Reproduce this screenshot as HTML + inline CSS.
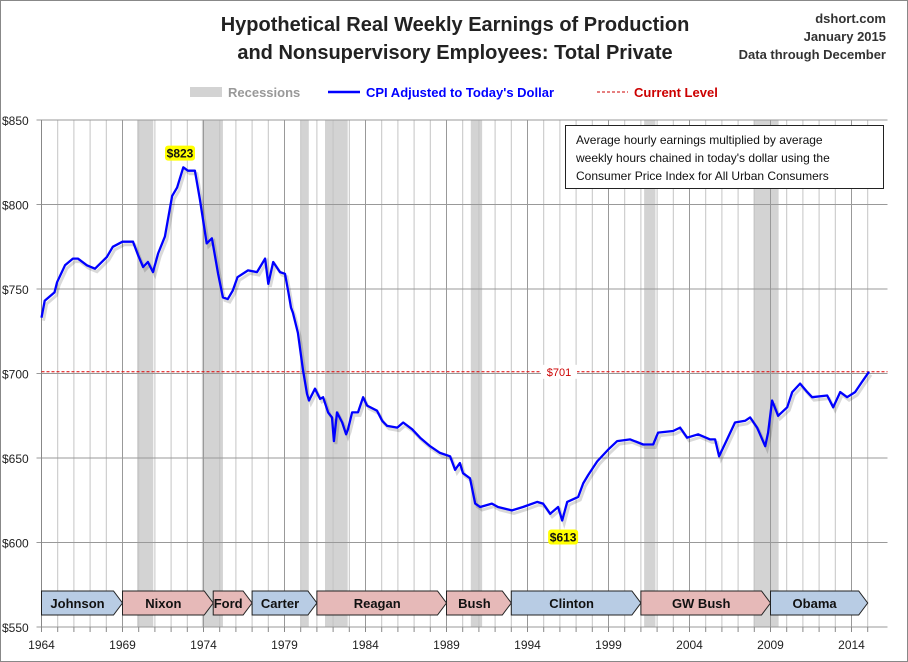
<!DOCTYPE html>
<html><head><meta charset="utf-8"><style>
body{margin:0;background:#fff;}
svg{display:block;font-family:"Liberation Sans",sans-serif;}
</style></head><body>
<svg id="chart" width="908" height="662" viewBox="0 0 908 662">
<rect x="0.5" y="0.5" width="907" height="661" fill="#fff" stroke="#888"/>
<text x="455" y="31" text-anchor="middle" font-size="20" font-weight="bold" fill="#222">Hypothetical Real Weekly Earnings of Production</text>
<text x="455" y="59" text-anchor="middle" font-size="20" font-weight="bold" fill="#222">and Nonsupervisory Employees: Total Private</text>
<text x="886" y="23" text-anchor="end" font-size="13" font-weight="bold" fill="#333">dshort.com</text>
<text x="886" y="41" text-anchor="end" font-size="13" font-weight="bold" fill="#333">January 2015</text>
<text x="886" y="59" text-anchor="end" font-size="13" font-weight="bold" fill="#333">Data through December</text>
<g>
<rect x="190" y="87" width="32" height="10" fill="#d3d3d3"/>
<text x="228" y="97" font-size="13" font-weight="bold" fill="#999">Recessions</text>
<line x1="328" y1="92" x2="360" y2="92" stroke="#0000ff" stroke-width="2.5"/>
<text x="366" y="97" font-size="13" font-weight="bold" fill="#0000ff">CPI Adjusted to Today's Dollar</text>
<line x1="597" y1="92" x2="628" y2="92" stroke="#cc0000" stroke-width="1" stroke-dasharray="3,2"/>
<text x="634" y="97" font-size="13" font-weight="bold" fill="#cc0000">Current Level</text>
</g>
<g id="plot"></g>
</svg>
<script>
const years=[1964.0,1964.2,1964.8,1964.96,1965.45,1965.94,1966.25,1966.8,1967.3,1968.04,1968.4,1969.0,1969.65,1969.96,1970.27,1970.57,1970.88,1971.2,1971.62,1972.06,1972.37,1972.75,1973.04,1973.47,1973.78,1974.2,1974.52,1974.9,1975.2,1975.5,1975.8,1976.1,1976.75,1977.3,1977.8,1978.0,1978.3,1978.72,1979.03,1979.22,1979.4,1979.52,1979.83,1980.14,1980.39,1980.51,1980.88,1981.2,1981.38,1981.69,1981.93,1982.05,1982.24,1982.56,1982.8,1982.92,1983.17,1983.54,1983.85,1984.1,1984.71,1985.03,1985.34,1985.96,1986.33,1986.88,1987.37,1987.99,1988.6,1989.22,1989.53,1989.83,1990.02,1990.45,1990.77,1991.08,1991.8,1992.18,1993.04,1993.72,1994.59,1994.96,1995.4,1995.89,1996.14,1996.45,1997.13,1997.44,1997.75,1998.3,1998.98,1999.54,2000.34,2001.14,2001.76,2002.06,2002.99,2003.42,2003.85,2004.53,2005.27,2005.58,2005.83,2006.32,2006.81,2007.43,2007.74,2008.17,2008.67,2008.85,2009.1,2009.47,2010.03,2010.34,2010.83,2011.27,2011.57,2012.5,2012.87,2013.3,2013.73,2014.22,2014.65,2015.08];
const values=[733,743,748,754,764,768,768,764,762,769,775,778,778,770,763,766,760,771,781,805,810,822,820,820,803,777,780,759,745,744,749,757,761,760,768,753,766,760,759,749,739,736,724,702,688,684,691,685,686,677,674,660,677,671,664,667,677,677,686,681,678,672,669,668,671,667,662,657,653,651,643,647,641,638,623,621,623,621,619,621,624,623,617,621,613,624,627,635,640,648,655,660,661,658,658,665,666,668,662,664,661,661,651,661,671,672,674,668,657,665,684,675,680,689,694,689,686,687,680,689,686,689,695,701];
const recStart=[1969.9,1973.9,1980.0,1981.5,1990.5,2001.2,2007.95];
const recEnd=[1970.9,1975.2,1980.5,1982.9,1991.2,2001.9,2009.5];
const yTicks=[550,600,650,700,750,800,850];
const xTicks=[1964,1969,1974,1979,1984,1989,1994,1999,2004,2009,2014];
const presNames=["Johnson","Nixon","Ford","Carter","Reagan","Bush","Clinton","GW Bush","Obama"];
const presStart=[1964,1969,1974.6,1977,1981,1989,1993,2001,2009];
const presEnd=[1969,1974.6,1977,1981,1989,1993,2001,2009,2015];
const presParty=["D","R","R","D","R","R","D","R","D"];
const currentLevel=701, peak=823, trough=613;

const L=41.5,R=887.5,T=120,B=627;
const x=y=>L+(y-1964)*16.2;
const yv=v=>B-(v-550)*(B-T)/300;
const g=document.getElementById('plot');
const NS='http://www.w3.org/2000/svg';
function mk(tag,a,parent){const e=document.createElementNS(NS,tag);for(const k in a)e.setAttribute(k,a[k]);(parent||g).appendChild(e);return e;}

for(let i=0;i<recStart.length;i++){
 const r=mk('rect',{x:x(recStart[i]),y:T,width:x(recEnd[i])-x(recStart[i]),height:B-T,fill:'#d3d3d3'});
 
 
}
for(let yr=1965;yr<=2015;yr++){
 const major=(yr-1964)%5===0;
 const l=mk('line',{x1:x(yr),x2:x(yr),y1:T,y2:B,stroke:major?'#999':'#c4c4c4','stroke-width':1});
 
 
}
yTicks.forEach(v=>{
 const l=mk('line',{x1:L-5,x2:R,y1:yv(v),y2:yv(v),stroke:'#999','stroke-width':1});
 
 
 const t=mk('text',{x:2,y:yv(v)+5,'font-size':12,fill:'#222'});
 t.textContent='$'+v;
 
 
});
const ax=mk('line',{x1:L,x2:L,y1:T,y2:B+5,stroke:'#888'});


for(let yr=1964;yr<=2015;yr++){
 const tk=mk('line',{x1:x(yr),x2:x(yr),y1:B,y2:B+5,stroke:'#888'});
 
 
}
xTicks.forEach(yr=>{
 const t=mk('text',{x:x(yr),y:B+22,'font-size':12,fill:'#222','text-anchor':'middle'});
 t.textContent=yr;
 
 
});
const cl=mk('line',{x1:L,x2:R,y1:yv(currentLevel),y2:yv(currentLevel),stroke:'#dd0000','stroke-dasharray':'3,2'});


const cbg=mk('rect',{x:541,y:yv(currentLevel)-7,width:36,height:14,fill:'#fff'});


const ct=mk('text',{x:559,y:yv(currentLevel)+4,'font-size':11,fill:'#cc0000','text-anchor':'middle'});
ct.textContent='$'+currentLevel;


let d='';
years.forEach((yr,i)=>{d+=(i?'L':'M')+x(yr).toFixed(1)+','+yv(values[i]).toFixed(1);});
const sh=mk('path',{d:d,fill:'none',stroke:'rgba(0,0,0,0.15)','stroke-width':3,transform:'translate(2,3)'});


const ln=mk('path',{d:d,fill:'none',stroke:'#0000ff','stroke-width':2.3,'stroke-linejoin':'round'});


function tag(v,yr,dy,name){
 const w=30;
 const r=mk('rect',{x:x(yr)-w/2,y:yv(v)+dy-10,width:w,height:15,rx:3,fill:'#ffff00'});
 
 
 const t=mk('text',{x:x(yr),y:yv(v)+dy+2,'font-size':12,'font-weight':'bold',fill:'#111','text-anchor':'middle'});
 t.textContent='$'+v;
 
 
}
tag(peak,1972.55,-10,'peak-label');
tag(trough,1996.2,19,'trough-label');
for(let i=0;i<presNames.length;i++){
 const x0=x(presStart[i]),x1=x(presEnd[i]),y0=591,y1=615;
 const p=mk('path',{d:`M${x0},${y0}L${x1-9},${y0}L${x1},${(y0+y1)/2}L${x1-9},${y1}L${x0},${y1}Z`,fill:presParty[i]==='D'?'#b8cce4':'#e6b9b8',stroke:'#222','stroke-width':1});
 
 
 const t=mk('text',{x:(x0+x1-9)/2,y:608,'font-size':13,'font-weight':'bold',fill:'#111','text-anchor':'middle'});
 t.textContent=presNames[i];
 
 
}
const ab=mk('rect',{x:565.5,y:125.5,width:318,height:63,fill:'#fff',stroke:'#222'});


["Average hourly earnings multiplied by average","weekly hours chained in today's dollar using the","Consumer Price Index for All Urban Consumers"].forEach((s,i)=>{
 const t=mk('text',{x:576,y:144+i*18,'font-size':12,fill:'#111'});
 t.textContent=s;
 
 
});
</script>
</body></html>
